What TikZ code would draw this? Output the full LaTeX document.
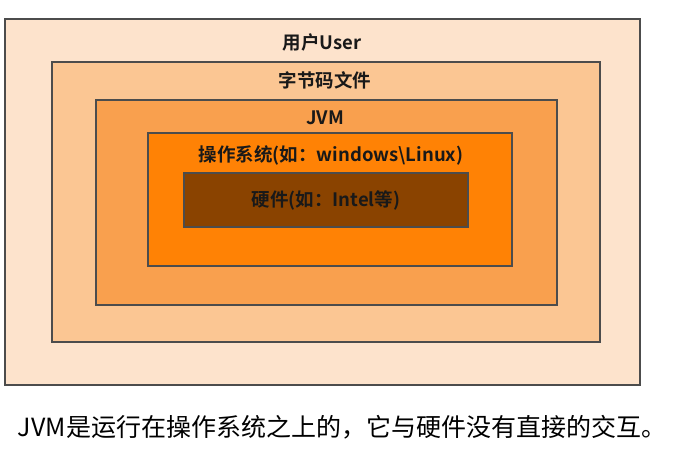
\documentclass[tikz,border=0pt]{standalone}
\usepackage{fontspec}
\newfontfamily\cjk{Noto Sans CJK SC}
\newfontfamily\cjkb{Noto Sans CJK SC Bold}
\definecolor{c1}{HTML}{FDE3CC}
\definecolor{c2}{HTML}{FBC693}
\definecolor{c3}{HTML}{F9A04E}
\definecolor{c4}{HTML}{FF8205}
\definecolor{c5}{HTML}{8A4300}
\tikzset{lay/.style={draw=black!70,line width=1.2pt},
lbl/.style={font=\cjkb\fontsize{18.5}{20}\selectfont,text=black!90}}
\begin{document}
\begin{tikzpicture}[x=1pt,y=-1pt]
\useasboundingbox (0,0) rectangle (676,460);
\fill[white] (0,0) rectangle (676,460);
\draw[lay,fill=c1] (5,19) rectangle (640,385);
\draw[lay,fill=c2] (52,62) rectangle (600,342);
\draw[lay,fill=c3] (96,100) rectangle (557,305);
\draw[lay,fill=c4] (148,133) rectangle (512,266);
\draw[lay,fill=c5] (184,173) rectangle (468,227);
\node[lbl] (t1) at (322,42) {用户User};
\node[lbl] (t2) at (325,80) {字节码文件};
\node[lbl] (t3) at (325,118) {JVM};
\node[lbl] (t4) at (331,155) {操作系统(如：windows\textbackslash Linux)};
\node[lbl] (t5) at (326,200) {硬件(如：Intel等)};
\node[font=\cjk\fontsize{25}{27}\selectfont] (cap) at (342,427) {JVM是运行在操作系统之上的，它与硬件没有直接的交互。};
\end{tikzpicture}
\end{document}
